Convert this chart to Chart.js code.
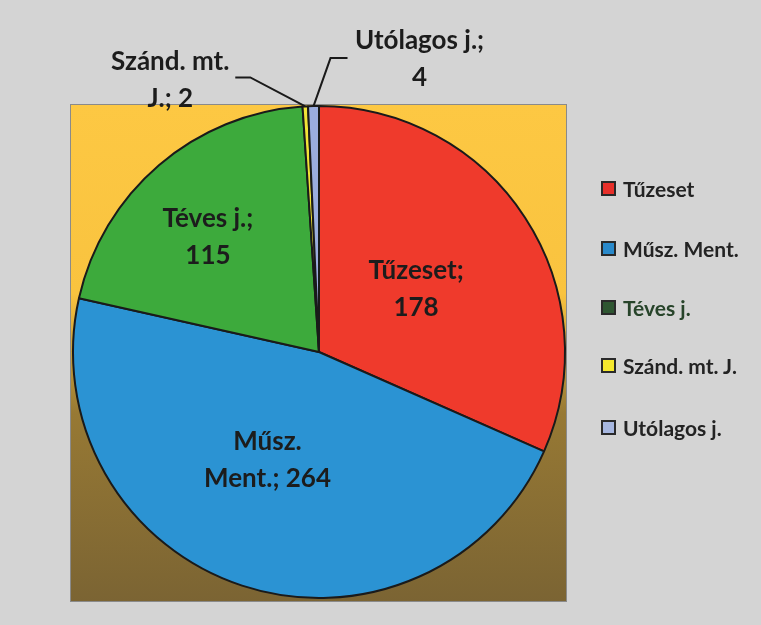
<!DOCTYPE html>
<html>
<head>
<meta charset="utf-8">
<script src="https://cdn.jsdelivr.net/npm/chart.js@4/dist/chart.umd.min.js"></script>
<style>
html, body { margin: 0; padding: 0; background: #d4d4d4; }
#wrap { position: relative; width: 761px; height: 625px; overflow: hidden; }
#legend { position: absolute; left: 601px; top: 0; font: bold 21px Lato, sans-serif; }
.item { position: absolute; left: 0; white-space: nowrap; display: flex; align-items: center; height: 24px; }
.box { width: 11px; height: 11px; border: 2px solid #2a2a2a; margin-right: 7px; }
</style>
</head>
<body>
<div id="wrap">
  <canvas id="pieChart" width="761" height="625"></canvas>
  <div id="legend"></div>
</div>
<script>
// adatok
var categories = ['Tűzeset', 'Műsz. Ment.', 'Téves j.', 'Szánd. mt. J.', 'Utólagos j.'];
var values = [178, 264, 115, 2, 4];
var sliceColors = ['#ef3a2c', '#2b93d3', '#3daa3c', '#f2e437', '#9badde'];
var legendColors = ['#e8302a', '#2a8acb', '#2e5631', '#f5e82e', '#a7b7e0'];
var legendTextColors = ['#232323', '#232323', '#27442a', '#232323', '#232323'];

// címkék elhelyezése (belső: eltolás a szelet közepétől, külső: vezetővonal)
var labelLayout = [
    { dx: -6, dy: 4 },
    { dx: -13, dy: -9 },
    { dx: -31, dy: -22 },
    { outside: true, dx: -135, dy: -26, line: [[-55, -29], [-70, -29]] },
    { outside: true, dx: 106, dy: -47, line: [[17, -48], [34, -48]] }
];

// háttér színátmenet a rajzterület mögött
var plotBackground = {
    id: 'plotBackground',
    beforeDraw: function(chart) {
        var ctx = chart.ctx, a = chart.chartArea;
        var l = a.left - 2, t = a.top, r = a.right + 1, b = a.bottom + 2;
        var g = ctx.createLinearGradient(0, t, 0, b);
        g.addColorStop(0, '#fdc843');
        g.addColorStop(0.38, '#f9c33f');
        g.addColorStop(0.62, '#977934');
        g.addColorStop(1, '#7b6433');
        ctx.save();
        ctx.fillStyle = g;
        ctx.fillRect(l, t, r - l, b - t);
        ctx.strokeStyle = '#8a8a8a';
        ctx.lineWidth = 1;
        ctx.strokeRect(l + 0.5, t + 0.5, r - l - 1, b - t - 1);
        ctx.restore();
    }
};

function wrapText(ctx, text, maxWidth) {
    var words = text.split(' '), lines = [], cur = '';
    words.forEach(function(w) {
        var test = cur ? cur + ' ' + w : w;
        if (cur && ctx.measureText(test).width > maxWidth) {
            lines.push(cur);
            cur = w;
        } else {
            cur = test;
        }
    });
    if (cur) lines.push(cur);
    return lines;
}

// adatcímkék
var sliceLabels = {
    id: 'sliceLabels',
    afterDatasetsDraw: function(chart) {
        var ctx = chart.ctx;
        var meta = chart.getDatasetMeta(0);
        ctx.save();
        ctx.font = 'bold 26px Lato, sans-serif';
        ctx.textAlign = 'center';
        ctx.textBaseline = 'middle';
        meta.data.forEach(function(arc, i) {
            var lay = labelLayout[i];
            var text = categories[i] + '; ' + values[i];
            var lines = wrapText(ctx, text, 132);
            var cx, cy;
            if (lay.outside) {
                var mid = (arc.startAngle + arc.endAngle) / 2;
                var ax = arc.x + Math.cos(mid) * arc.outerRadius;
                var ay = arc.y + Math.sin(mid) * arc.outerRadius;
                ctx.strokeStyle = '#1a1a1a';
                ctx.lineWidth = 2;
                ctx.beginPath();
                ctx.moveTo(ax, ay);
                ctx.lineTo(ax + lay.line[0][0], ay + lay.line[0][1]);
                ctx.lineTo(ax + lay.line[1][0], ay + lay.line[1][1]);
                ctx.stroke();
                cx = ax + lay.dx;
                cy = ay + lay.dy;
            } else {
                var p = arc.tooltipPosition();
                cx = p.x + lay.dx;
                cy = p.y + lay.dy;
            }
            ctx.fillStyle = '#1c1c1c';
            var lh = 37;
            var y0 = cy - (lines.length - 1) * lh / 2;
            lines.forEach(function(ln, k) {
                ctx.fillText(ln, cx, y0 + k * lh);
            });
        });
        ctx.restore();
    }
};

var ctx = document.getElementById('pieChart').getContext('2d');
var chart = new Chart(ctx, {
    type: 'pie',
    data: {
        labels: categories,
        datasets: [{
            data: values,
            backgroundColor: sliceColors,
            borderColor: '#1a1a1a',
            borderWidth: 2
        }]
    },
    options: {
        responsive: false,
        animation: false,
        layout: { padding: { left: 72, right: 195, top: 104, bottom: 25 } },
        plugins: {
            legend: { display: false },
            tooltip: { enabled: false }
        }
    },
    plugins: [plotBackground, sliceLabels]
});

// jelmagyarázat
var legendEl = document.getElementById('legend');
var legendTops = [176, 236, 295, 353, 415];
categories.forEach(function(c, i) {
    var item = document.createElement('div');
    item.className = 'item';
    item.style.top = legendTops[i] + 'px';
    var box = document.createElement('span');
    box.className = 'box';
    box.style.background = legendColors[i];
    var txt = document.createElement('span');
    txt.textContent = c;
    txt.style.color = legendTextColors[i];
    item.appendChild(box);
    item.appendChild(txt);
    legendEl.appendChild(item);
});
</script>
</body>
</html>
